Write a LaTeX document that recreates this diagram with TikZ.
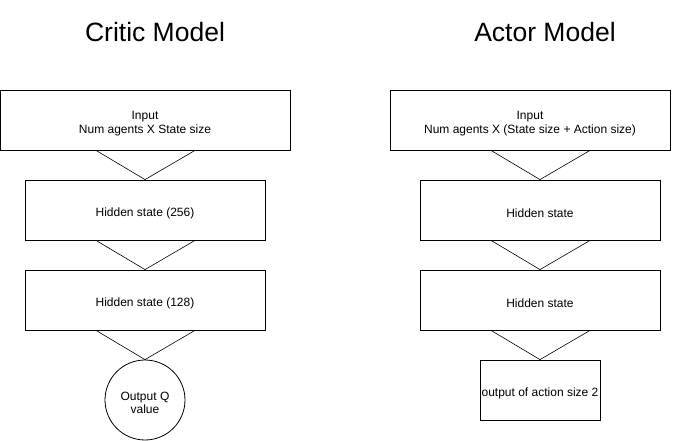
\documentclass[tikz,border=0pt]{standalone}
\usepackage{fontspec}
\setmainfont{Liberation Sans}

\newcommand\lift{\rule{0pt}{14.7pt}}

\begin{document}
\begin{tikzpicture}[x=1pt, y=-1pt,
        layer/.style={draw, line width=0.8pt, inner sep=0pt, minimum height=60pt,
            align=center, font=\fontsize{12}{14}\selectfont},
        outcirc/.style={layer, circle, minimum size=80pt},
        heading/.style={anchor=base, font=\fontsize{26.5}{30}\selectfont}]
        \def\funnel(#1)(#2){\draw[line width=0.6pt]([xshift=-49pt]#2.north |- #1.south)
            -- (#2.north) -- ([xshift=50pt]#2.north |- #1.south);}

        \useasboundingbox (0,0) rectangle (681,441);

        % critic
        \node[heading] (titleC) at (155,42) {Critic Model};
        \node[layer, minimum width=290pt] (inC) at (145,120) {\lift Input\\Num agents X State size};
        \node[layer, minimum width=240pt] (hC1) at (145,210) {\lift Hidden state (256)};
        \node[layer, minimum width=240pt] (hC2) at (145,300) {\lift Hidden state (128)};
        \node[outcirc] (outC) at (145,400) {\lift Output Q\\[-1pt]value};
        \funnel(inC)(hC1) \funnel(hC1)(hC2) \funnel(hC2)(outC)

        % actor
        \node[heading] (titleA) at (545,42) {Actor Model};
        \node[layer, minimum width=280pt] (inA) at (530,120) {\lift Input\\Num agents X (State size + Action size)};
        \node[layer, minimum width=240pt] (hA1) at (540,210) {\lift Hidden state};
        \node[layer, minimum width=240pt] (hA2) at (540,300) {\lift Hidden state};
        \node[layer, minimum width=120pt] (outA) at (540,390) {\lift output of action size 2};
        \funnel(inA)(hA1) \funnel(hA1)(hA2) \funnel(hA2)(outA)
    \end{tikzpicture}
\end{document}
